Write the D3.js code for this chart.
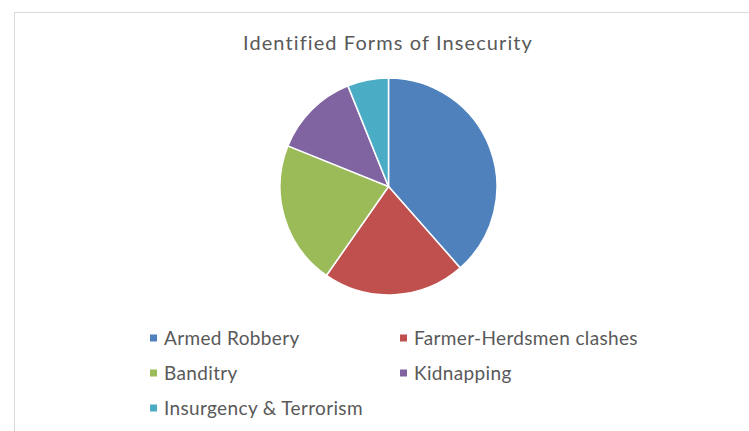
<!DOCTYPE html>
<head>
	<meta charset="utf-8">
	<title>Identified Forms of Insecurity</title>
	<script src="https://d3js.org/d3.v7.min.js"></script>
	<style>
		body { margin: 0; background: #fff; }
		text { font-family: Lato, "Open Sans", sans-serif; fill: #595959; }
	</style>
</head>
<body>
	<div id="chart"></div>
	<script>
		// valores (percentuais aproximados)
		var categorias = ["Armed Robbery", "Farmer-Herdsmen clashes", "Banditry", "Kidnapping", "Insurgency & Terrorism"];
		var valores = [38.5, 21.2, 21.4, 12.8, 6.1];
		var cores = ["#4F81BD", "#C0504D", "#9BBB59", "#8064A2", "#4BACC6"];
		var titulo = "Identified Forms of Insecurity";

		var width = 749,
			height = 431;

		var svg = d3.select("#chart")
			.append("svg")
			.attr("width", width)
			.attr("height", height);

		// moldura do grafico
		svg.append("rect")
			.attr("x", 14.5)
			.attr("y", 12.5)
			.attr("width", width)
			.attr("height", height)
			.attr("fill", "none")
			.attr("stroke", "#d9d9d9");

		svg.append("text")
			.attr("x", 388)
			.attr("y", 50)
			.attr("text-anchor", "middle")
			.attr("font-size", 20)
			.attr("letter-spacing", 1.1)
			.text(titulo);

		var color = d3.scaleOrdinal().domain(categorias).range(cores);

		var dados = categorias.map(function(c, i) { return {nome: c, valor: valores[i]}; });

		var pie = d3.pie()
			.sort(null)
			.value(function(d) { return d.valor; });

		var arc = d3.arc()
			.innerRadius(0)
			.outerRadius(108.5);

		var g = svg.append("g")
			.attr("transform", "translate(388.5,186.5)");

		g.selectAll("path")
			.data(pie(dados))
			.enter().append("path")
			.attr("d", arc)
			.attr("fill", function(d) { return color(d.data.nome); })
			.attr("stroke", "#fff")
			.attr("stroke-width", 1.5);

		// legenda em duas colunas
		var colX = [150, 400],
			linhaY = [338, 373, 408];

		var legenda = svg.append("g")
			.selectAll("g")
			.data(categorias)
			.enter().append("g")
			.attr("transform", function(d, i) {
				return "translate(" + colX[i % 2] + "," + linhaY[Math.floor(i / 2)] + ")";
			});

		legenda.append("rect")
			.attr("x", 0)
			.attr("y", -3.5)
			.attr("width", 7)
			.attr("height", 7)
			.attr("fill", function(d) { return color(d); });

		legenda.append("text")
			.attr("x", 14)
			.attr("y", 0)
			.attr("dy", "0.35em")
			.attr("font-size", 19)
			.attr("letter-spacing", 0.35)
			.text(function(d) { return d; });
	</script>
</body>
